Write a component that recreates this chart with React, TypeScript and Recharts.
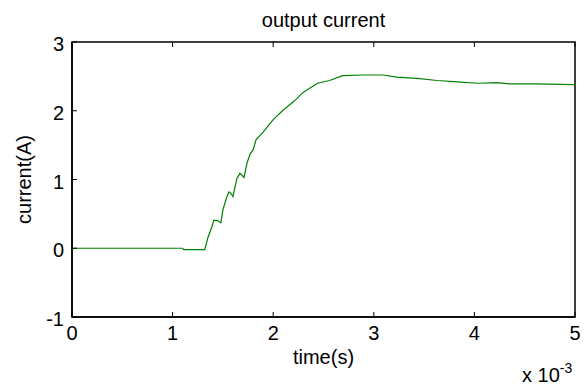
import { Line, LineChart, XAxis, YAxis, Label, ReferenceArea } from "recharts"

// time in ms (axis shows x 10^-3 s), current in A
const timeMs = [
	0, 1.1, 1.11, 1.32, 1.35, 1.39, 1.41, 1.45, 1.48, 1.5, 1.54, 1.56, 1.58, 1.6, 1.62, 1.64, 1.67,
	1.71, 1.74, 1.77, 1.8, 1.83, 1.9, 2.0, 2.1, 2.2, 2.3, 2.44, 2.56, 2.69, 2.89, 3.09, 3.23, 3.43,
	3.63, 3.83, 4.03, 4.22, 4.35, 4.6, 5.0,
]
const currentA = [
	0, 0, -0.02, -0.02, 0.15, 0.31, 0.41, 0.4, 0.37, 0.56, 0.75, 0.82, 0.8, 0.75, 0.89, 1.02, 1.09,
	1.03, 1.24, 1.37, 1.43, 1.58, 1.69, 1.87, 2.01, 2.13, 2.27, 2.4, 2.44, 2.51, 2.52, 2.52, 2.49, 2.47,
	2.44, 2.42, 2.4, 2.41, 2.39, 2.39, 2.38,
]
const xTicks = [0, 1, 2, 3, 4, 5]
const yTicks = [-1, 0, 1, 2, 3]

const data = timeMs.map((t, i) => ({ t, i: currentA[i] }))

const font = "Arial, 'Liberation Sans', sans-serif"
const fs = 20
const TL = 5 // inward tick length
const GAP = 8

// ticks drawn inward, MATLAB style
function BottomTick({ x, y, payload }: any) {
	const ay = y - GAP
	return (
		<g>
			<line x1={x} x2={x} y1={ay} y2={ay - TL} stroke="#000" />
			<text x={x} y={y} dy="0.75em" textAnchor="middle" fontSize={fs} fontFamily={font} fill="#000">
				{payload.value}
			</text>
		</g>
	)
}
function TopTick({ x, y }: any) {
	return <line x1={x} x2={x} y1={y} y2={y + TL} stroke="#000" />
}
function LeftTick({ x, y, payload }: any) {
	const ax = x + GAP
	return (
		<g>
			<line x1={ax} x2={ax + TL} y1={y} y2={y} stroke="#000" />
			<text x={x} y={y + 2} dy="0.36em" textAnchor="end" fontSize={fs} fontFamily={font} fill="#000">
				{payload.value}
			</text>
		</g>
	)
}
function RightTick({ x, y }: any) {
	return <line x1={x} x2={x - TL} y1={y} y2={y} stroke="#000" />
}

export default function App() {
	return (
		<div style={{ position: "absolute", left: 0, top: 0, width: 588, height: 385, background: "#fff" }}>
			<div
				style={{
					position: "absolute",
					left: 72,
					width: 503,
					top: 9,
					lineHeight: "22px",
					textAlign: "center",
					fontFamily: font,
					fontSize: fs,
				}}
			>
				output current
			</div>
			<LineChart width={588} height={385} data={data} margin={{ top: 41, right: 12, left: 0, bottom: 0 }}>
				<XAxis
					xAxisId="b"
					dataKey="t"
					type="number"
					domain={[0, 5]}
					ticks={xTicks}
					allowDataOverflow
					height={68}
					tickSize={0}
					tickMargin={GAP}
					tick={<BottomTick />}
					axisLine={{ stroke: "#000", strokeWidth: 1.5 }}
				>
					<Label value="time(s)" position="insideBottom" offset={21} style={{ fontSize: fs, fill: "#000", fontFamily: font }} />
				</XAxis>
				<XAxis
					xAxisId="t"
					orientation="top"
					dataKey="t"
					type="number"
					domain={[0, 5]}
					ticks={xTicks}
					height={1}
					tickSize={0}
					tickMargin={0}
					tick={<TopTick />}
					axisLine={false}
				/>
				<YAxis
					yAxisId="l"
					type="number"
					domain={[-1, 3]}
					ticks={yTicks}
					width={72}
					tickSize={0}
					tickMargin={GAP}
					tick={<LeftTick />}
					axisLine={{ stroke: "#000", strokeWidth: 1.5 }}
				>
					<Label
						value="current(A)"
						position="insideLeft"
						offset={24}
						angle={-90}
						textAnchor="middle"
						style={{ fontSize: fs, fill: "#000", fontFamily: font, textAnchor: "middle" }}
					/>
				</YAxis>
				<YAxis
					yAxisId="r"
					orientation="right"
					type="number"
					domain={[-1, 3]}
					ticks={yTicks}
					width={1}
					tickSize={0}
					tickMargin={0}
					tick={<RightTick />}
					axisLine={false}
				/>
				<ReferenceArea
					xAxisId="b"
					yAxisId="l"
					x1={0}
					x2={5}
					y1={-1}
					y2={3}
					fill="none"
					stroke="#000"
					strokeWidth={1.5}
					ifOverflow="visible"
				/>
				<Line
					xAxisId="b"
					yAxisId="l"
					type="linear"
					dataKey="i"
					stroke="#008000"
					strokeWidth={1.2}
					dot={false}
					isAnimationActive={false}
				/>
			</LineChart>
			<div style={{ position: "absolute", left: 522, top: 364, lineHeight: "22px", fontFamily: font, fontSize: fs, whiteSpace: "nowrap" }}>
				x 10<sup style={{ fontSize: 14, position: "relative", top: -3, verticalAlign: "top", lineHeight: "14px" }}>-3</sup>
			</div>
		</div>
	)
}
